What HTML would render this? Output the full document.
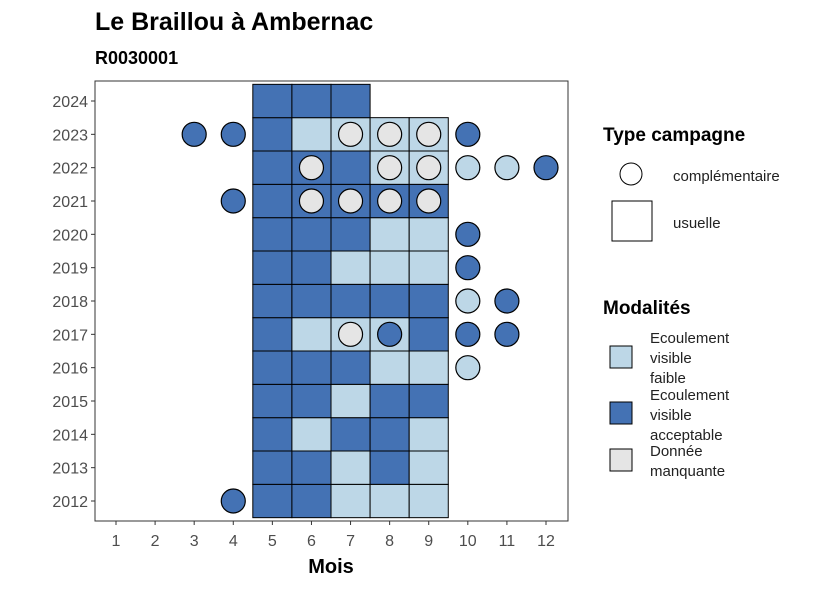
<!DOCTYPE html>
<html><head><meta charset="utf-8"><style>
body{margin:0;background:#fff;font-family:"Liberation Sans",sans-serif}
</style></head><body>
<svg id="c" width="826" height="590" xmlns="http://www.w3.org/2000/svg" font-family="Liberation Sans, sans-serif">
<text x="95" y="30" font-size="25" font-weight="bold">Le Braillou à Ambernac</text>
<text x="95" y="64" font-size="18" font-weight="bold">R0030001</text>
<rect x="95" y="81" width="473" height="440" fill="#fff" stroke="#333" stroke-width="1"/>
<g id="tiles"></g><g id="pts"></g><g id="axes"></g>
<text x="331" y="573" font-size="20" font-weight="bold" text-anchor="middle">Mois</text>
<g>
<text x="603" y="141" font-size="19" font-weight="bold">Type campagne</text>
<circle cx="631" cy="174" r="11" fill="#fff" stroke="#000"/>
<text x="673" y="181" font-size="15" fill="#222">complémentaire</text>
<rect x="612" y="201" width="40" height="40" fill="#fff" stroke="#000"/>
<text x="673" y="228" font-size="15" fill="#222">usuelle</text>
<text x="603" y="314" font-size="19" font-weight="bold">Modalités</text>
<rect x="610" y="346" width="22" height="22" fill="#bdd7e7" stroke="#000"/>
<text font-size="15" fill="#222"><tspan x="650" y="343">Ecoulement</tspan><tspan x="650" y="363">visible</tspan><tspan x="650" y="383">faible</tspan></text>
<rect x="610" y="402" width="22" height="22" fill="#4472b4" stroke="#000"/>
<text font-size="15" fill="#222"><tspan x="650" y="400">Ecoulement</tspan><tspan x="650" y="420">visible</tspan><tspan x="650" y="440">acceptable</tspan></text>
<rect x="610" y="449" width="22" height="22" fill="#e5e5e5" stroke="#000"/>
<text font-size="15" fill="#222"><tspan x="650" y="456">Donnée</tspan><tspan x="650" y="476">manquante</tspan></text>
</g>
</svg>
<script>
const years=[2012,2013,2014,2015,2016,2017,2018,2019,2020,2021,2022,2023,2024];
const months=[1,2,3,4,5,6,7,8,9,10,11,12];
const tileMonths=[5,6,7,8,9];
const tileRows={
2024:"DDD",2023:"DLLLL",2022:"DDDLL",2021:"DDDDD",2020:"DDDLL",2019:"DDLLL",
2018:"DDDDD",2017:"DLLLD",2016:"DDDLL",2015:"DDLDD",2014:"DLDDL",2013:"DDLDL",2012:"DDLLL"};
const ptMonth=[3,4,7,8,9,10,6,8,9,10,11,12,6,7,8,9,4,10,10,10,11,7,8,10,11,10,4];
const ptYear=[2023,2023,2023,2023,2023,2023,2022,2022,2022,2022,2022,2022,2021,2021,2021,2021,2021,2020,2019,2018,2018,2017,2017,2017,2017,2016,2012];
const ptCode=["D","D","G","G","G","D","G","G","G","L","L","D","G","G","G","G","D","D","D","L","D","G","D","D","D","L","D"];
const col={D:"#4472b4",L:"#bdd7e7",G:"#e5e5e5"};
const xs=m=>116+(m-1)*(546-116)/11;
const ys=y=>501-(y-2012)*(400/12);
const cw=(546-116)/11, ch=400/12;
const NS="http://www.w3.org/2000/svg";
function mk(t,a,p){const e=document.createElementNS(NS,t);for(const k in a)e.setAttribute(k,a[k]);p.appendChild(e);return e;}
const T=document.getElementById('tiles');
years.forEach(y=>{const s=tileRows[y];for(let i=0;i<s.length;i++){const m=tileMonths[i];
const r=mk('rect',{x:xs(m)-cw/2,y:ys(y)-ch/2,width:cw,height:ch,fill:col[s[i]],stroke:"#000","stroke-width":1},T);

}});
const P=document.getElementById('pts');
ptMonth.forEach((m,i)=>{const c=mk('circle',{cx:xs(m),cy:ys(ptYear[i]),r:12,fill:col[ptCode[i]],stroke:"#000","stroke-width":1.2},P);

});
const A=document.getElementById('axes');
years.forEach(y=>{mk('line',{x1:91,x2:95,y1:ys(y),y2:ys(y),stroke:"#333"},A);
const t=mk('text',{x:88,y:ys(y)+6,"font-size":16,fill:"#4d4d4d","text-anchor":"end"},A);t.textContent=y;

});
months.forEach(m=>{mk('line',{x1:xs(m),x2:xs(m),y1:521,y2:525,stroke:"#333"},A);
const t=mk('text',{x:xs(m),y:546,"font-size":16,fill:"#4d4d4d","text-anchor":"middle"},A);t.textContent=m;

});
</script>
</body></html>
